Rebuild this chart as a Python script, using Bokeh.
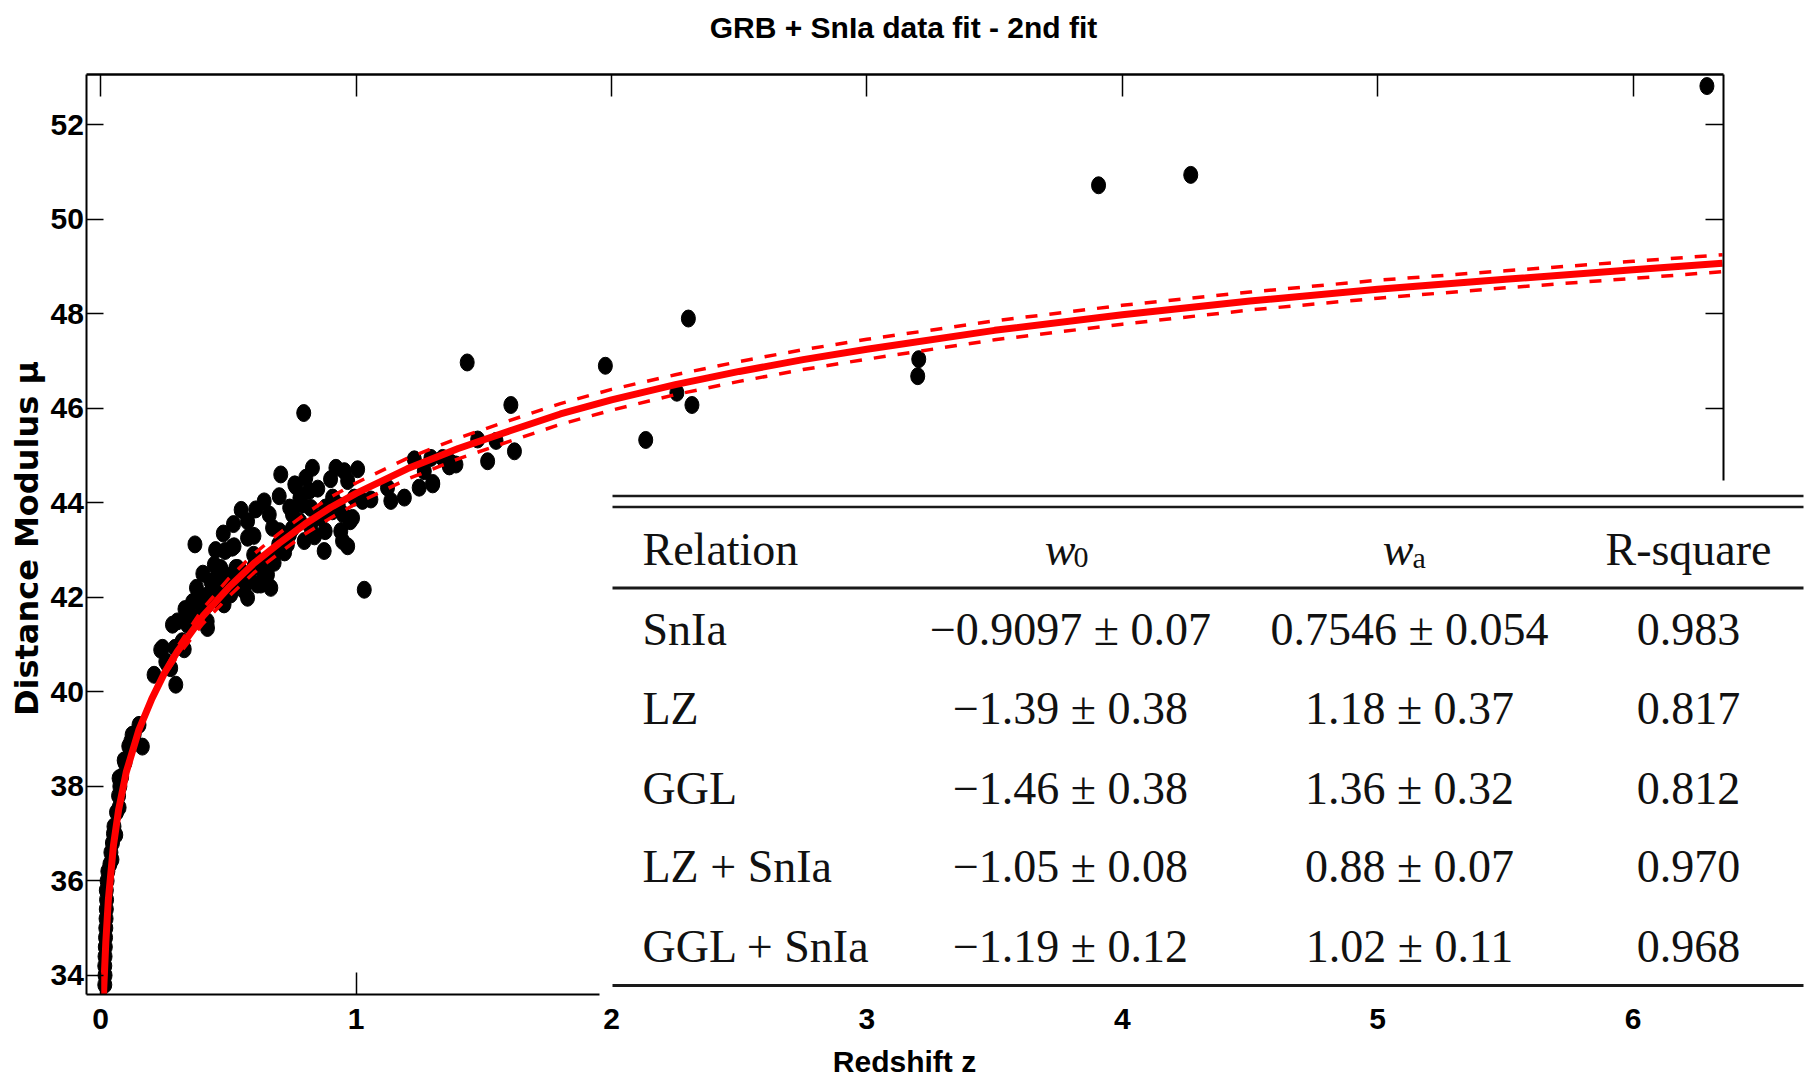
import numpy as np
from bokeh.plotting import figure
from bokeh.models import (Range1d, LinearAxis, FixedTicker, Label, BoxAnnotation,
                          CustomJSTickFormatter, ColumnDataSource)
from bokeh.embed import file_html
from bokeh.resources import INLINE

# ---------------- data ----------------
z_data = [0.016, 0.017, 0.016, 0.017, 0.018, 0.019, 0.020, 0.021, 0.022, 0.023, 0.022, 0.025,
          0.028, 0.036, 0.044, 0.040, 0.046, 0.050, 0.052, 0.062, 0.072, 0.070, 0.075, 0.082,
          0.095, 0.092, 0.110, 0.118, 0.131, 0.150, 0.163, 0.123, 0.059, 0.072,
          0.209, 0.235, 0.255, 0.274, 0.294, 0.300, 0.281, 0.327, 0.340, 0.379, 0.392, 0.418,
          0.418, 0.431, 0.457, 0.483, 0.509, 0.549, 0.575, 0.614, 0.653, 0.679, 0.536, 0.601,
          0.242, 0.263, 0.291, 0.319, 0.347, 0.417, 0.375, 0.396, 0.445, 0.459, 0.501, 0.529,
          0.487, 0.515, 0.369, 0.627,
          0.795, 0.705, 0.699, 0.640, 0.607, 0.575, 0.575, 0.522, 0.470, 0.490, 0.522, 0.666,
          0.640, 0.673, 0.679, 0.731, 0.751, 0.764, 0.790, 0.829, 0.803, 0.816, 0.823, 0.823,
          0.797, 0.862, 0.875, 0.908, 0.921, 0.954, 0.967, 1.006, 0.993, 0.986, 0.947, 0.967,
          0.940, 1.025, 1.058, 1.123, 1.136, 1.189, 1.247, 1.228, 1.300, 1.267, 1.293, 1.371,
          1.391, 1.515, 1.476, 1.548, 1.620, 1.032,
          0.907, 0.879, 0.837, 0.739, 0.697, 0.620, 0.599, 0.977, 0.760, 0.500, 0.550, 0.560,
          0.630, 0.585, 0.740, 0.780, 0.850, 0.880, 0.900, 0.930, 0.950, 1.339, 1.365, 1.300,
          0.420, 0.450, 0.470, 0.400, 0.360, 0.330, 0.450, 0.480, 0.520, 0.550, 0.600, 0.660,
          0.700, 0.720, 0.750, 0.780,
          1.435, 1.606, 1.976, 2.134, 2.256, 2.315, 2.301, 3.199, 3.203, 3.907, 4.268, 6.289]
mu_data = [33.80, 34.00, 34.20, 34.40, 34.60, 34.80, 35.00, 35.20, 35.40, 35.60, 35.80, 36.00,
           36.20, 36.35, 36.45, 36.60, 36.80, 37.00, 37.15, 37.45, 37.55, 37.80, 38.00, 38.20,
           38.50, 38.55, 38.85, 38.95, 39.10, 39.30, 38.84, 39.09, 36.97, 38.17,
           40.36, 40.89, 40.64, 40.50, 40.15, 41.49, 41.42, 40.90, 41.42, 41.99, 41.56, 41.35,
           41.85, 42.34, 42.62, 41.85, 42.06, 42.34, 41.99, 42.27, 42.48, 42.73, 42.62, 42.66,
           40.93, 40.57, 40.93, 41.07, 41.63, 41.49, 42.20, 41.70, 42.69, 42.20, 42.34, 42.62,
           42.98, 43.05, 43.12, 42.27,
           45.90, 44.60, 44.14, 44.03, 43.86, 43.61, 43.26, 43.08, 42.62, 42.06, 42.20, 42.20,
           42.48, 43.47, 42.90, 43.12, 43.75, 44.35, 43.96, 44.74, 44.53, 44.25, 43.89, 43.47,
           43.19, 43.68, 42.98, 44.11, 44.74, 44.67, 44.46, 44.71, 44.11, 43.68, 43.19, 43.08,
           43.40, 44.04, 44.07, 44.32, 44.04, 44.11, 44.32, 44.92, 44.42, 44.67, 44.95, 44.85,
           44.81, 44.88, 45.34, 45.31, 45.09, 42.16,
           43.82, 43.40, 43.29, 43.33, 43.12, 42.62, 42.90, 43.61, 44.39, 42.45, 42.55, 42.15,
           42.75, 42.35, 43.90, 44.10, 44.30, 43.90, 44.50, 43.95, 43.75, 44.95, 44.77, 44.39,
           42.05, 41.95, 42.30, 42.50, 41.90, 41.75, 43.00, 43.35, 43.55, 43.85, 43.30, 43.75,
           43.40, 42.95, 43.45, 43.60,
           46.97, 46.07, 46.90, 45.33, 46.33, 46.07, 47.90, 46.68, 47.04, 50.72, 50.94, 52.82]

z_fit = [0.011, 0.02, 0.03, 0.05, 0.07, 0.1, 0.15, 0.2, 0.25, 0.3, 0.4, 0.5, 0.6, 0.7, 0.8, 0.9,
         1.0, 1.2, 1.4, 1.6, 1.8, 2.0, 2.25, 2.5, 2.75, 3.0, 3.5, 4.0, 4.5, 5.0, 5.5, 6.0, 6.35]
mu_fit = [33.6, 34.7, 35.6, 36.75, 37.5, 38.3, 39.2, 39.85, 40.4, 40.85, 41.6, 42.2, 42.72, 43.15,
          43.55, 43.9, 44.2, 44.72, 45.15, 45.52, 45.88, 46.18, 46.5, 46.78, 47.03, 47.25, 47.65,
          47.98, 48.27, 48.52, 48.73, 48.93, 49.07]
mu_fit_upper = [33.64, 34.74, 35.64, 36.79, 37.53, 38.33, 39.21, 39.85, 40.45, 40.95, 41.76, 42.39,
                42.92, 43.36, 43.76, 44.12, 44.42, 44.94, 45.37, 45.74, 46.10, 46.40, 46.71, 46.99,
                47.24, 47.46, 47.85, 48.18, 48.46, 48.71, 48.91, 49.11, 49.25]
mu_fit_lower = [33.60, 34.66, 35.56, 36.71, 37.47, 38.27, 39.19, 39.85, 40.35, 40.75, 41.44, 42.01,
                42.52, 42.94, 43.34, 43.68, 43.98, 44.50, 44.93, 45.30, 45.66, 45.96, 46.29, 46.57,
                46.82, 47.04, 47.45, 47.78, 48.08, 48.33, 48.55, 48.75, 48.89]

x_ticks = [0, 1, 2, 3, 4, 5, 6]
y_ticks = [34, 36, 38, 40, 42, 44, 46, 48, 50, 52]
x_axis_start, x_axis_end = -0.054, 6.352     # extent of the drawn axes box
y_axis_start, y_axis_end = 33.598, 53.075

title_text = "GRB + SnIa data fit - 2nd fit"
x_label = "Redshift z"
y_label = "Distance Modulus \u03bc"

table_header = ["Relation", "w", "0", "w", "a", "R-square"]
relations = ["SnIa", "LZ", "GGL", "LZ + SnIa", "GGL + SnIa"]
w0_vals = ["\u22120.9097 \u00b1 0.07", "\u22121.39 \u00b1 0.38", "\u22121.46 \u00b1 0.38",
           "\u22121.05 \u00b1 0.08", "\u22121.19 \u00b1 0.12"]
wa_vals = ["0.7546 \u00b1 0.054", "1.18 \u00b1 0.37", "1.36 \u00b1 0.32", "0.88 \u00b1 0.07",
           "1.02 \u00b1 0.11"]
r2_vals = ["0.983", "0.817", "0.812", "0.970", "0.968"]

# ---------------- layout ----------------
# The plotting frame covers the whole canvas; the visible box is drawn by four
# axes pinned (fixed_location) at the box edges, so nothing outside it is clipped.
W, H = 1805, 1079
X0_PX, PX_PER_Z = 100.2, 255.4       # canvas x of z = 0, pixels per unit z
Y52_PX, PX_PER_MU = 124.3, 47.25     # canvas y of mu = 52, pixels per unit mu

x_range = Range1d(-X0_PX / PX_PER_Z, (W - X0_PX) / PX_PER_Z)
y_range = Range1d(52 - (H - Y52_PX) / PX_PER_MU, 52 + Y52_PX / PX_PER_MU)


def sx(X):
    return X


def sy(Y):
    return H - Y


SANS = '"Liberation Sans", Arial, sans-serif'
WIDE = '"DejaVu Sans", sans-serif'
SERIF = '"Liberation Serif", "DejaVu Serif", serif'

p = figure(width=W, height=H, output_backend="svg", toolbar_location=None,
           x_range=x_range, y_range=y_range, min_border=0,
           x_axis_location=None, y_axis_location=None)
p.grid.visible = False
p.outline_line_color = None
p.background_fill_color = "white"
p.border_fill_color = "white"


def styled_axis(ticks, tick_len, show_labels, bounds, loc):
    ax = LinearAxis(ticker=FixedTicker(ticks=ticks, minor_ticks=[]), bounds=bounds,
                    fixed_location=loc)
    ax.axis_line_color = "black"
    ax.axis_line_width = 2
    ax.major_tick_line_color = "black"
    ax.major_tick_line_width = 1.5
    ax.major_tick_in = tick_len
    ax.major_tick_out = 0
    ax.minor_tick_line_color = None
    ax.major_label_text_font = SANS
    ax.major_label_text_font_style = "bold"
    ax.major_label_text_font_size = "30px"
    ax.major_label_text_color = "black"
    if not show_labels:
        ax.formatter = CustomJSTickFormatter(code="return ''")
        ax.major_label_text_font_size = "1px"
        ax.major_label_standoff = 0
    return ax


xb = (x_axis_start, x_axis_end)
yb = (y_axis_start, y_axis_end)
ax_bottom = styled_axis(x_ticks, 22, True, xb, y_axis_start)
ax_bottom.major_label_standoff = 15
ax_top = styled_axis(x_ticks, 22, False, xb, y_axis_end)
ax_top.axis_line_width = 2.5
ax_left = styled_axis(y_ticks, 17, True, yb, x_axis_start)
ax_left.major_label_standoff = 3
ax_right = styled_axis(y_ticks, 18, False, yb, x_axis_end)

p.add_layout(ax_bottom, "below")
p.add_layout(ax_top, "above")
p.add_layout(ax_left, "left")
p.add_layout(ax_right, "right")

# ---------------- glyphs ----------------
pts = ColumnDataSource(dict(z=z_data, mu=mu_data))
p.ellipse(x="z", y="mu", width=14, height=17, width_units="screen", height_units="screen",
          source=pts, fill_color="black", line_color="black")

fit = ColumnDataSource(dict(z=z_fit, mu=mu_fit, up=mu_fit_upper, lo=mu_fit_lower))
p.line(x="z", y="up", source=fit, line_color="#ff0000", line_width=3.5, line_dash="12 12")
p.line(x="z", y="lo", source=fit, line_color="#ff0000", line_width=3.5, line_dash="12 12")
p.line(x="z", y="mu", source=fit, line_color="#ff0000", line_width=7)

# ---------------- titles ----------------
p.add_layout(Label(x=sx(903), y=sy(27), x_units="screen", y_units="screen", text=title_text,
                   text_align="center", text_baseline="middle", text_font=SANS,
                   text_font_size="30px", text_font_style="bold", text_color="black"))
p.add_layout(Label(x=sx(904), y=sy(1061), x_units="screen", y_units="screen", text=x_label,
                   text_align="center", text_baseline="middle", text_font=SANS,
                   text_font_size="30px", text_font_style="bold", text_color="black"))
p.add_layout(Label(x=sx(26), y=sy(538), x_units="screen", y_units="screen", text=y_label,
                   angle=np.pi / 2, text_align="center", text_baseline="middle", text_font=WIDE,
                   text_font_size="32px", text_font_style="bold", text_color="black"))

# ---------------- inset table ----------------
p.add_layout(BoxAnnotation(left=sx(599), right=sx(W), top=sy(480), bottom=sy(1001),
                           left_units="screen", right_units="screen", top_units="screen",
                           bottom_units="screen", fill_color="white", fill_alpha=1.0,
                           line_color=None, level="annotation"))
for yc, th in [(495.5, 2.6), (506.5, 2.6), (587.6, 3.0), (985.0, 3.0)]:
    p.add_layout(BoxAnnotation(left=sx(612), right=sx(1803), top=sy(yc - th / 2),
                               bottom=sy(yc + th / 2), left_units="screen", right_units="screen",
                               top_units="screen", bottom_units="screen", fill_color="#1a1a1a",
                               fill_alpha=1.0, line_color=None, level="annotation"))


def tlabel(X, Y, text, align="left", size="46px", style="normal"):
    p.add_layout(Label(x=sx(X), y=sy(Y), x_units="screen", y_units="screen", text=text,
                       text_align=align, text_baseline="alphabetic", text_font=SERIF,
                       text_font_size=size, text_font_style=style, text_color="#111111"))


header_y = 549
tlabel(642, header_y, table_header[0])
tlabel(1075, header_y, table_header[1], align="right", style="italic")
tlabel(1073, header_y + 8, table_header[2], size="30px")
tlabel(1413, header_y, table_header[3], align="right", style="italic")
tlabel(1412, header_y + 8, table_header[4], size="30px")
tlabel(1688, header_y, table_header[5], align="center")

row_y = [629, 708, 788, 866, 946]
for i in range(len(relations)):
    tlabel(642, row_y[i], relations[i])
    tlabel(1070, row_y[i], w0_vals[i], align="center")
    tlabel(1409, row_y[i], wa_vals[i], align="center")
    tlabel(1688, row_y[i], r2_vals[i], align="center")

open("out.html", "w").write(file_html(p, INLINE))
